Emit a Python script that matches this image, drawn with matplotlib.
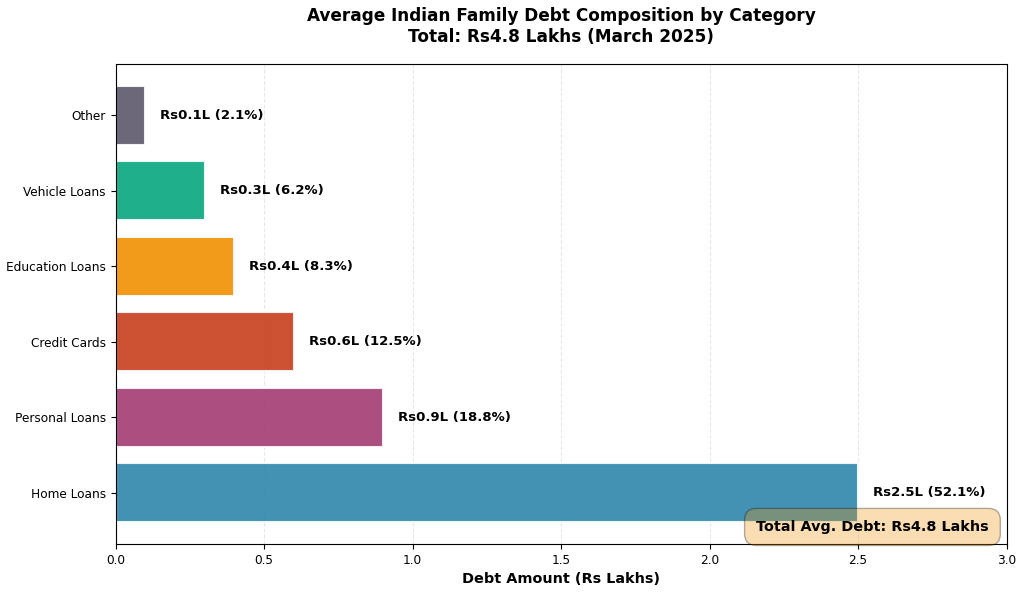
import matplotlib
matplotlib.use("Agg")
from matplotlib import pyplot as plt

# debt categories, bottom to top
categories = ['Home Loans', 'Personal Loans', 'Credit Cards', 'Education Loans', 'Vehicle Loans', 'Other']
amounts = [2.5, 0.9, 0.6, 0.4, 0.3, 0.1]
shares = [52.1, 18.8, 12.5, 8.3, 6.2, 2.1]
colors = ['#2E86AB', '#A23B72', '#C73E1D', '#F18F01', '#06A77D', '#5D576B']
total = 4.8

fig, ax = plt.subplots(figsize=(10.24, 5.92), dpi=100)

bars = ax.barh(categories, amounts, color=colors, alpha=0.9, edgecolor='white', linewidth=1.5, height=0.78)

for bar, amt, pct in zip(bars, amounts, shares):
    ax.text(bar.get_width() + 0.05, bar.get_y() + bar.get_height() / 2,
            f'Rs{amt}L ({pct}%)', va='center', ha='left', fontsize=9.5, fontweight='bold')

ax.set_xlim(0, 3.0)
ax.tick_params(labelsize=8.7)
ax.set_xlabel('Debt Amount (Rs Lakhs)', fontsize=10.4, fontweight='bold')
ax.set_title('Average Indian Family Debt Composition by Category\nTotal: Rs4.8 Lakhs (March 2025)',
             fontsize=12.2, fontweight='bold', pad=16)
ax.grid(axis='x', linestyle='--', alpha=0.3)
ax.set_axisbelow(True)

ax.text(0.98, 0.021, f'Total Avg. Debt: Rs{total} Lakhs', transform=ax.transAxes,
        ha='right', va='bottom', fontsize=10.4, fontweight='bold',
        bbox=dict(boxstyle='round,pad=0.8', facecolor='#F18F01', alpha=0.3))

fig.subplots_adjust(left=0.113, right=0.983, top=0.892, bottom=0.081)
fig.savefig('out.png', dpi=100)
